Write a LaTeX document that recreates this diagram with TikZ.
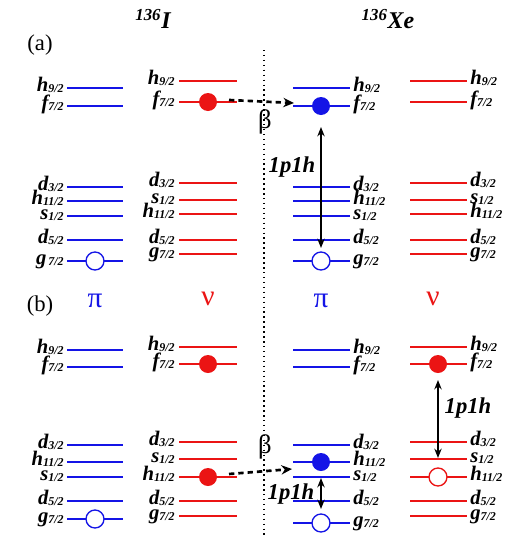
\documentclass[tikz,border=0pt]{standalone}
\usepackage{fontspec}
\setmainfont{Liberation Serif}
\usetikzlibrary{arrows.meta}
\definecolor{pblue}{RGB}{20,20,230}
\definecolor{nred}{RGB}{235,20,20}
\newcommand\lv[2]{{\fontsize{15.5}{15.5}\selectfont\bfseries\itshape #1}\raisebox{-0.25ex}{\fontsize{9}{9}\selectfont\bfseries\itshape #2}}
\newcommand\Hn{\lv{h}{9/2}}
\newcommand\Fs{\lv{f}{7/2}}
\newcommand\Dt{\lv{d}{3/2}}
\newcommand\He{\lv{h}{11/2}}
\newcommand\Sh{\lv{s}{1/2}}
\newcommand\Df{\lv{d}{5/2}}
\newcommand\Gs{\lv{g}{7/2}}
\newcommand\Gsp{\lv{g}{\,7/2}}
\begin{document}
\begin{tikzpicture}[x=0.75pt,y=-0.75pt,
  lvl/.style={line width=1.3pt},
  labl/.style={anchor=base east, inner sep=0pt},
  labr/.style={anchor=base west, inner sep=0pt},
  full/.style={circle, minimum size=13.5pt, inner sep=0pt},
  hole/.style={circle, draw, line width=1pt, fill=white, minimum size=13.5pt, inner sep=0pt},
  dasharr/.style={line width=2pt, dash pattern=on 4pt off 3pt, -{Stealth[length=8pt,width=7pt]}},
  pharr/.style={line width=1.3pt, {Stealth[length=7pt,width=5.5pt]}-{Stealth[length=7pt,width=5.5pt]}},
  big/.style={font=\fontsize{18}{18}\selectfont\bfseries\itshape},
  greek/.style={font=\fontsize{22}{22}\selectfont},
  beta/.style={font=\fontsize{20}{20}\selectfont},
  tag/.style={font=\fontsize{17}{17}\selectfont},
  ph/.style={font=\fontsize{17}{17}\selectfont\bfseries\itshape, inner sep=0pt}]
\useasboundingbox (0,0) rectangle (527,536);
% dotted separator
\draw[line width=1.2pt, dash pattern=on 1.1pt off 2.6pt] (264,50) -- (264,536);
% titles
\node[big] (tI) at (153,19) {\textsuperscript{136}I};
\node[big] (tXe) at (388,19) {\textsuperscript{136}Xe};
\node[tag] (la) at (40,45) {(a)};
\node[tag] (lb) at (40,306) {(b)};
\node[greek, text=pblue] (pi1) at (95,301) {π};
\node[greek, text=nred] (nu1) at (208,299) {ν};
\node[greek, text=pblue] (pi2) at (321,301) {π};
\node[greek, text=nred] (nu2) at (433,299) {ν};
% ---------- panel (a) ----------
\foreach \y/\t in {88/\Hn,106/\Fs,187/\Dt,201/\He,216/\Sh,240/\Df,261/\Gsp}{
  \draw[lvl, pblue] (67,\y) -- (123,\y);
  \node[labl] at (64,\y+3) {\t};}
\foreach \y/\t in {81/\Hn,102/\Fs,183/\Dt,200/\Sh,214/\He,240/\Df,254/\Gs}{
  \draw[lvl, nred] (179,\y) -- (237,\y);
  \node[labl] at (175,\y+3) {\t};}
\foreach \y/\t in {88/\Hn,106/\Fs,187/\Dt,201/\He,216/\Sh,240/\Df,261/\Gs}{
  \draw[lvl, pblue] (293,\y) -- (350,\y);
  \node[labr] at (353,\y+3) {\t};}
\foreach \y/\t in {81/\Hn,102/\Fs,183/\Dt,200/\Sh,214/\He,240/\Df,254/\Gs}{
  \draw[lvl, nred] (410,\y) -- (467,\y);
  \node[labr] at (470,\y+3) {\t};}
\node[full, fill=nred] (na) at (208,102) {};
\node[full, fill=pblue] (pa) at (321,106) {};
\node[hole, draw=pblue] (ha1) at (95,261) {};
\node[hole, draw=pblue] (ha2) at (321,261) {};
\coordinate (sa) at (229,100);
\coordinate (ea) at (294,103);
\draw[dasharr] (sa) -- (ea);
\node[beta] (ba) at (265,122) {β};
\coordinate (ta) at (321,127);
\coordinate (bta) at (321,248);
\draw[pharr] (ta) -- (bta);
\node[ph] (pha) at (292,167) {1p1h};
% ---------- panel (b) ----------
\foreach \y/\t in {350/\Hn,367/\Fs,445/\Dt,462/\He,477/\Sh,501/\Df,519/\Gs}{
  \draw[lvl, pblue] (67,\y) -- (123,\y);
  \node[labl] at (64,\y+3) {\t};}
\foreach \y/\t in {347/\Hn,364/\Fs,442/\Dt,459/\Sh,477/\He,501/\Df,516/\Gs}{
  \draw[lvl, nred] (179,\y) -- (237,\y);
  \node[labl] at (175,\y+3) {\t};}
\foreach \y/\t in {350/\Hn,367/\Fs,445/\Dt,462/\He,477/\Sh,501/\Df,523/\Gs}{
  \draw[lvl, pblue] (293,\y) -- (350,\y);
  \node[labr] at (353,\y+3) {\t};}
\foreach \y/\t in {347/\Hn,364/\Fs,442/\Dt,459/\Sh,477/\He,501/\Df,516/\Gs}{
  \draw[lvl, nred] (410,\y) -- (467,\y);
  \node[labr] at (470,\y+3) {\t};}
\node[full, fill=nred] (nb0) at (208,364) {};
\node[full, fill=nred] (nb1) at (208,477) {};
\node[full, fill=nred] (nb2) at (438,364) {};
\node[hole, draw=nred] (hb3) at (438,477) {};
\node[full, fill=pblue] (pb) at (321,462) {};
\node[hole, draw=pblue] (hb1) at (95,519) {};
\node[hole, draw=pblue] (hb2) at (321,523) {};
\coordinate (sb) at (229,474);
\coordinate (eb) at (292,469);
\draw[dasharr] (sb) -- (eb);
\node[beta] (bb) at (265,447) {β};
\coordinate (tb1) at (321,478);
\coordinate (bb1) at (321,509);
\draw[pharr] (tb1) -- (bb1);
\node[ph] (phb1) at (291,494) {1p1h};
\coordinate (tb2) at (438,380);
\coordinate (bb2) at (438,458);
\draw[pharr] (tb2) -- (bb2);
\node[ph] (phb2) at (468,408) {1p1h};
\end{tikzpicture}
\end{document}
